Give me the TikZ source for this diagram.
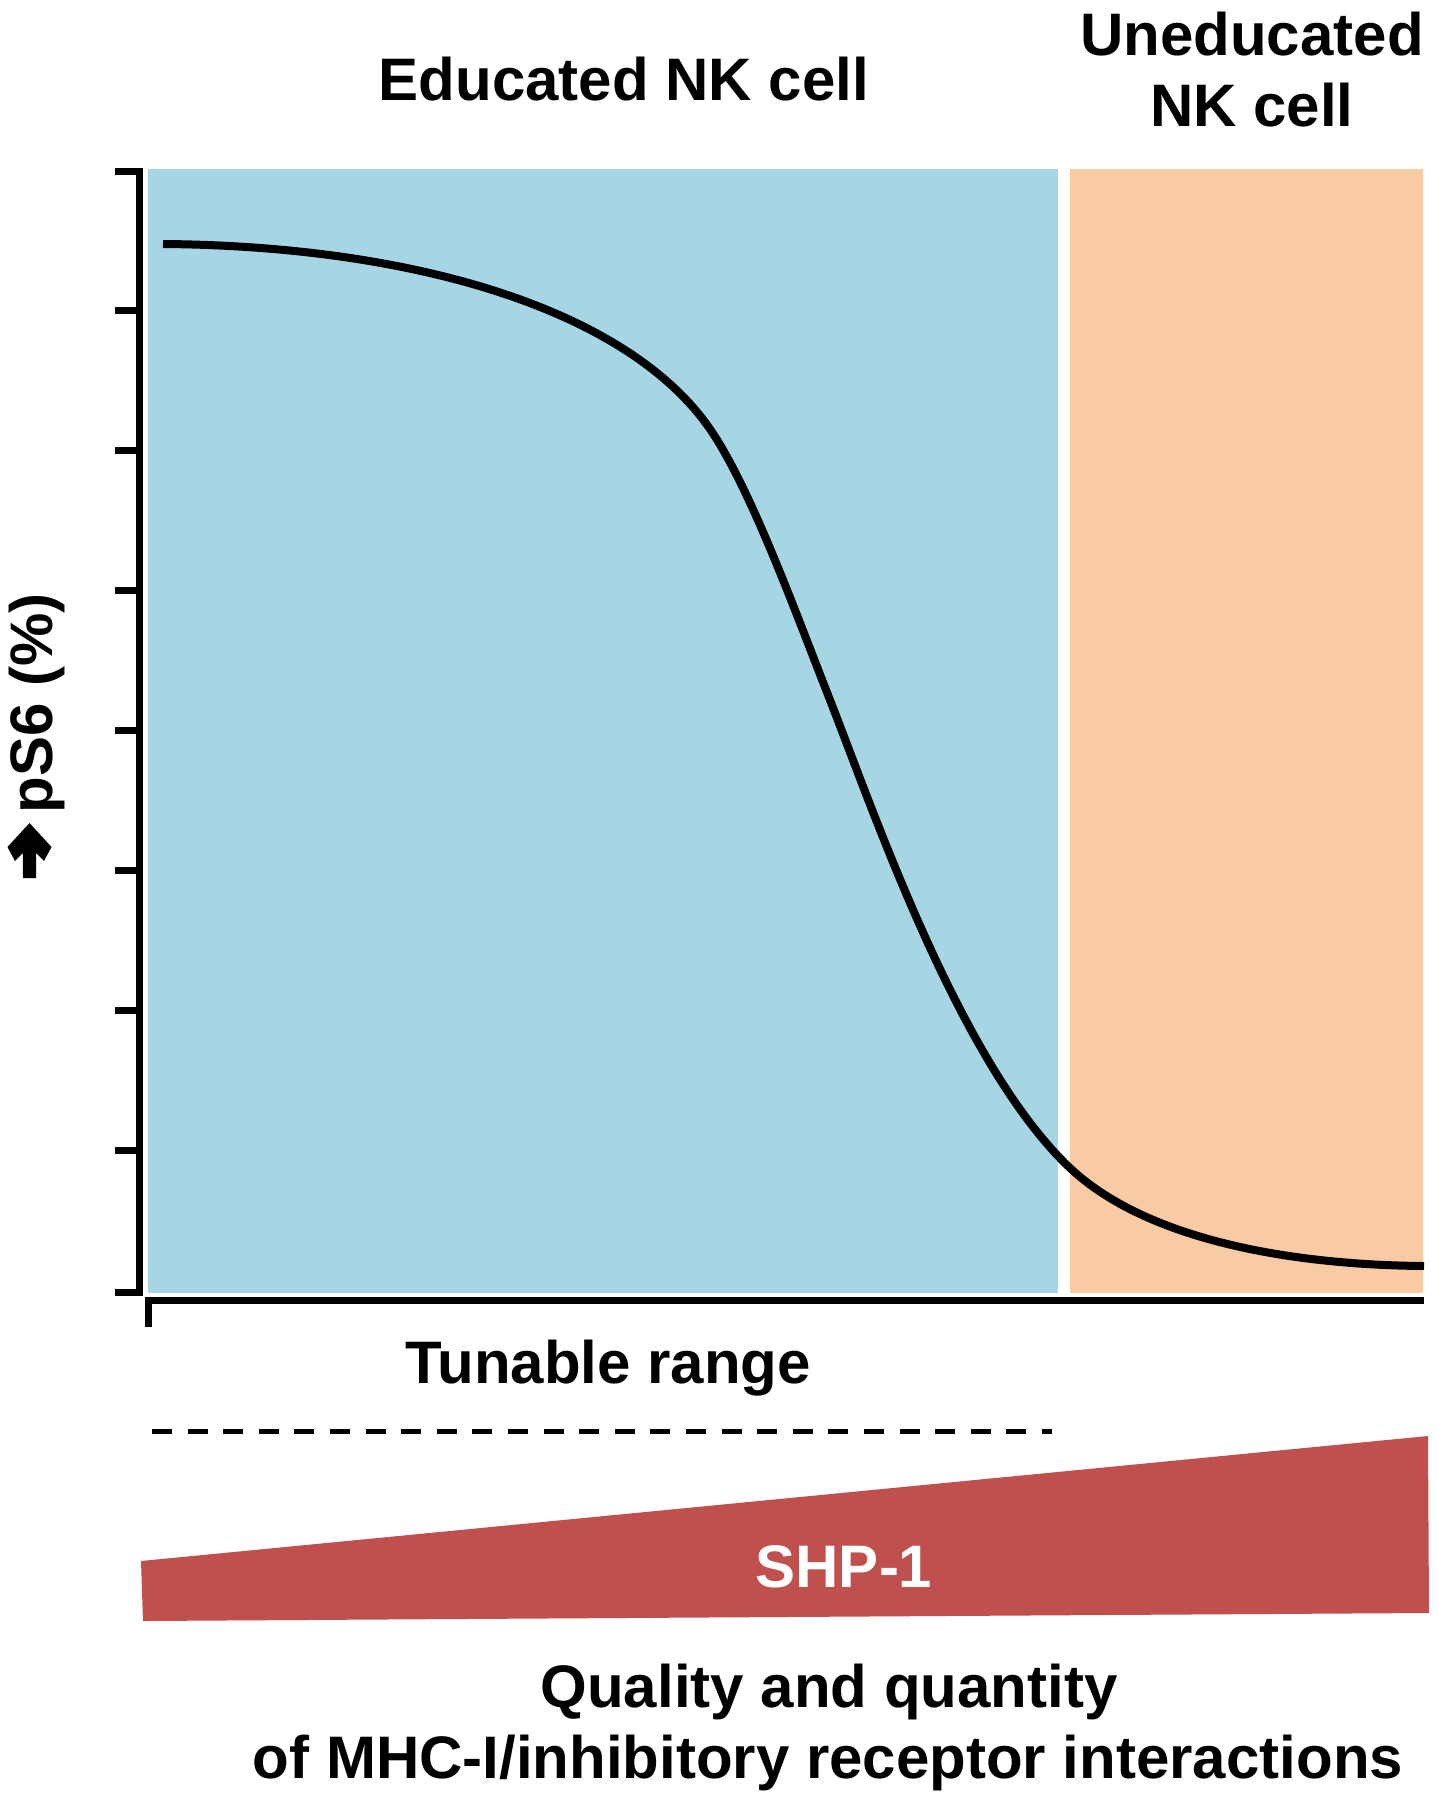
\documentclass[tikz,border=0pt]{standalone}
\usepackage{fontspec}
\setmainfont{Liberation Sans}
\definecolor{edublue}{HTML}{A6D5E3}
\definecolor{unorange}{HTML}{F9CBA4}
\definecolor{shpred}{HTML}{C0504D}
\begin{document}
\begin{tikzpicture}[x=0.5pt,y=-0.5pt,
  axis/.style={line width=3.5pt},
  curveline/.style={line width=4pt},
  lbl/.style={font=\fontsize{30}{36}\selectfont\bfseries, inner sep=0pt, anchor=base}]
\useasboundingbox (0,0) rectangle (1437,1800);
% background regions
\fill[edublue] (148,169) rectangle (1058,1293);
\fill[unorange] (1070,169) rectangle (1423,1293);
% y axis
\draw[axis] (115,171) -- (139,171) -- (139,1292) -- (115,1292);
\foreach \yy in {310,450,590,730,870,1010,1150} \draw[axis] (115,\yy) -- (139,\yy);
% x axis
\draw[axis] (148,1327) -- (148,1300) -- (1424,1300);
% curve
\coordinate (c0) at (163,244);
\coordinate (c1) at (712,432);
\coordinate (c2) at (830,700);
\coordinate (c3) at (1070,1168);
\coordinate (c4) at (1424,1266);
\draw[curveline] (c0) .. controls (420,246) and (632,312) .. (c1)
  .. controls (752,492) and (795,611) .. (c2)
  .. controls (875,815) and (960,1064) .. (c3)
  .. controls (1150,1243) and (1300,1265) .. (c4);
% dashed tunable range line
\draw[line width=2.5pt, dash pattern=on 10pt off 7.8pt] (152,1431) -- (1052,1431);
% SHP-1 wedge
\fill[shpred] (141,1561) -- (1428,1436) -- (1429,1613) -- (143,1621) -- cycle;
\node[lbl, text=white] (shp) at (844,1587) {SHP-1};
% titles
\node[lbl] (edu) at (624,100) {Educated NK cell};
\node[lbl] (unedu1) at (1252,55) {Uneducated};
\node[lbl] (unedu2) at (1252,126) {NK cell};
\node[lbl] (tun) at (608,1383) {Tunable range};
\node[lbl] (q1) at (829,1707) {Quality and quantity};
\node[lbl] (q2) at (828,1778) {of MHC-I/inhibitory receptor interactions};
% y label
\node[lbl, rotate=90, anchor=base west] (ylab) at (52,814) {pS6 (\%)};
\fill (29.5,823) -- (51.5,847) -- (44,861) -- (36.2,853) -- (36.2,878) -- (22.8,878)
  -- (22.8,853) -- (15,861) -- (7.5,847) -- cycle;
\end{tikzpicture}
\end{document}
